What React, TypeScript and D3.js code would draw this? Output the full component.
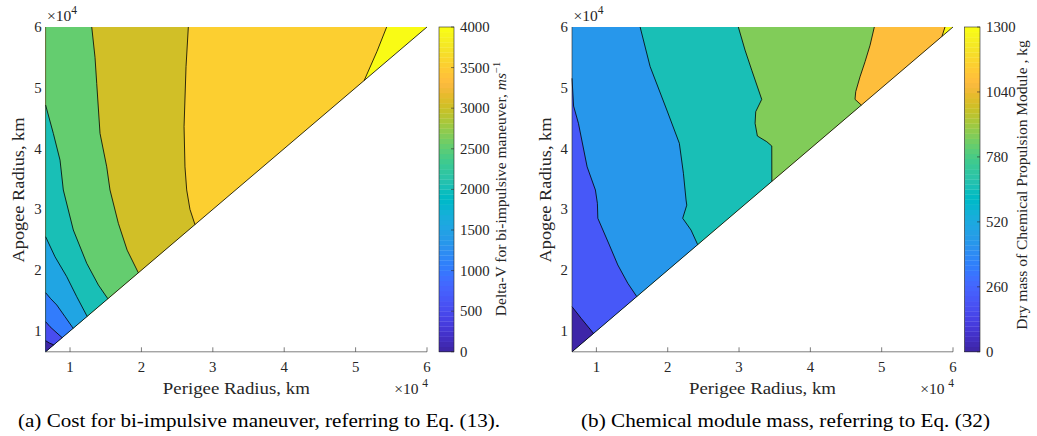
import React, { useEffect } from 'react';
import * as d3 from 'd3';

// ---------- colormap (MATLAB parula, 64 entries) ----------
const PARULA: number[][] = [
  [0.2422,0.1504,0.6603],[0.2504,0.1650,0.7076],[0.2578,0.1818,0.7511],[0.2647,0.1978,0.7952],
  [0.2706,0.2147,0.8364],[0.2751,0.2342,0.8710],[0.2783,0.2559,0.8991],[0.2803,0.2782,0.9221],
  [0.2813,0.3006,0.9414],[0.2810,0.3228,0.9579],[0.2795,0.3447,0.9717],[0.2760,0.3667,0.9829],
  [0.2699,0.3892,0.9906],[0.2602,0.4123,0.9952],[0.2440,0.4358,0.9988],[0.2206,0.4603,0.9973],
  [0.1963,0.4847,0.9892],[0.1834,0.5074,0.9798],[0.1786,0.5289,0.9682],[0.1764,0.5499,0.9520],
  [0.1687,0.5703,0.9359],[0.1540,0.5902,0.9218],[0.1460,0.6091,0.9079],[0.1380,0.6276,0.8973],
  [0.1248,0.6459,0.8883],[0.1113,0.6635,0.8763],[0.0952,0.6798,0.8598],[0.0689,0.6948,0.8394],
  [0.0297,0.7082,0.8163],[0.0036,0.7203,0.7917],[0.0067,0.7312,0.7660],[0.0433,0.7411,0.7394],
  [0.0964,0.7500,0.7120],[0.1408,0.7584,0.6842],[0.1717,0.7670,0.6554],[0.1938,0.7758,0.6251],
  [0.2161,0.7843,0.5923],[0.2470,0.7918,0.5567],[0.2906,0.7973,0.5188],[0.3406,0.8008,0.4789],
  [0.3909,0.8029,0.4354],[0.4456,0.8024,0.3909],[0.5044,0.7993,0.3480],[0.5616,0.7942,0.3045],
  [0.6174,0.7876,0.2612],[0.6720,0.7793,0.2227],[0.7242,0.7698,0.1910],[0.7738,0.7598,0.1646],
  [0.8203,0.7498,0.1535],[0.8634,0.7406,0.1596],[0.9035,0.7330,0.1774],[0.9393,0.7288,0.2100],
  [0.9728,0.7298,0.2394],[0.9956,0.7434,0.2371],[0.9970,0.7659,0.2199],[0.9952,0.7893,0.2028],
  [0.9892,0.8136,0.1885],[0.9786,0.8386,0.1766],[0.9676,0.8639,0.1643],[0.9610,0.8890,0.1537],
  [0.9597,0.9135,0.1423],[0.9628,0.9373,0.1265],[0.9691,0.9606,0.1064],[0.9769,0.9839,0.0805],
];
const parulaHex = PARULA.map(c => d3.rgb(c[0] * 255, c[1] * 255, c[2] * 255).formatHex());

// ---------- shared axis data ----------
const radiusMin = 6578;
const radiusMax = 60000;
const axisTicks = [10000, 20000, 30000, 40000, 50000, 60000];
const axisTickLabels = ['1', '2', '3', '4', '5', '6'];

// ---------- panel (a): Delta-V, m/s ----------
const dvLevels = [0, 500, 1000, 1500, 2000, 2500, 3000, 3500, 4000];
const dvColorTicks = [0, 500, 1000, 1500, 2000, 2500, 3000, 3500, 4000];
const dvClim = [0, 4000];
// contour lines: [perigee km, apogee km]
const dvLine500: [number, number][] = [[6578, 8400], [7150, 8000], [7720, 7720]];
const dvLine1000: [number, number][] = [[6578, 11530], [7200, 10700], [7900, 9950], [8900, 8900]];
const dvLine1500: [number, number][] = [[6578, 16300], [7300, 15300], [8140, 14280], [9300, 12350], [10440, 10440]];
const dvLine2000: [number, number][] = [[6578, 25510], [7900, 22200], [9540, 18930], [10940, 15640], [12400, 12400]];
const dvLine2500: [number, number][] = [[6578, 47170], [7660, 42500], [8600, 38100], [9060, 33190], [10460, 26610], [12340, 21130], [13970, 17570], [15300, 15300]];
const dvLine3000: [number, number][] = [[13040, 60000], [13500, 55000], [13740, 50700], [14200, 42500], [15140, 37000], [15600, 33190], [16770, 27700], [18000, 23300], [19570, 19570]];
const dvLine3500: [number, number][] = [[26570, 60000], [26250, 53500], [25970, 43600], [26100, 37000], [26340, 33200], [26800, 30000], [27500, 27500]];
const dvLine4000: [number, number][] = [[54350, 60000], [53000, 56000], [51200, 51200]];
const dvLines = [dvLine500, dvLine1000, dvLine1500, dvLine2000, dvLine2500, dvLine3000, dvLine3500, dvLine4000];

// ---------- panel (b): chemical module dry mass, kg ----------
const massLevels = [0, 1300 / 6, 2600 / 6, 650, 5200 / 6, 6500 / 6, 1300];
const massColorTicks = [0, 260, 520, 780, 1040, 1300];
const massClim = [0, 1300];
const massLine1: [number, number][] = [[6578, 14000], [7860, 12090], [9600, 9600]];
const massLine2: [number, number][] = [[6578, 51560], [6800, 47000], [7480, 44160], [8700, 37000], [9860, 33190], [10140, 31000], [10200, 28540], [11820, 24140], [13000, 20860], [14400, 17850], [15660, 15660]];
const massLine3: [number, number][] = [[16130, 60000], [17530, 53500], [19870, 46350], [21630, 40870], [22200, 35940], [22570, 31550], [22670, 30700], [22100, 28540], [23270, 26600], [24200, 24200]];
const massLine4: [number, number][] = [[29900, 60000], [30840, 56200], [31780, 52900], [33180, 48100], [32340, 46070], [32250, 44160], [32570, 42070], [33890, 41130], [34590, 40430], [34600, 34600]];
const massLine5: [number, number][] = [[48970, 60000], [48370, 57000], [47670, 54300], [46960, 51800], [46360, 49360], [46260, 48100], [47150, 47150]];
const massLine6: [number, number][] = [[58880, 60000], [58450, 58450]];
const massLines = [massLine1, massLine2, massLine3, massLine4, massLine5, massLine6];

// ---------- layout ----------
const FONT = 'Liberation Serif, DejaVu Serif, serif';
const AX = '#262626';
const yTop = 27;
const yBot = 351.8;

type PanelProps = {
  x0: number; x1: number; cbX: number; cbW: number;
  levels: number[]; lines: [number, number][][]; clim: number[];
  colorTicks: number[]; cbLabel: React.ReactNode; cbLabelX: number; cbLabelY: number;
  yLabelX: number; caption: string; captionX: number; captionW: number;
};

function colorFor(v: number, clim: number[]) {
  const idx = Math.max(0, Math.min(63, Math.floor(((v - clim[0]) / (clim[1] - clim[0])) * 64 + 1e-9)));
  return parulaHex[idx];
}

function Panel(p: PanelProps) {
  const xs = d3.scaleLinear().domain([radiusMin, radiusMax]).range([p.x0, p.x1]);
  const ys = d3.scaleLinear().domain([radiusMin, radiusMax]).range([yBot, yTop]);
  const line = d3.line<[number, number]>().x(d => xs(d[0])).y(d => ys(d[1]));
  const tri: [number, number][] = [[radiusMin, radiusMin], [radiusMin, radiusMax], [radiusMax, radiusMax]];
  const cs = d3.scaleLinear().domain(p.clim).range([yBot, yTop]);
  const nL = p.levels.length;

  const polys = p.lines.map(pts => {
    const poly: [number, number][] = [...pts, [radiusMin, radiusMin]];
    if (pts[0][1] >= radiusMax - 1) poly.push([radiusMin, radiusMax]);
    return poly;
  });
  const bandH = (yBot - yTop) / 64;

  return (
    <g>
      {/* filled contours */}
      <path d={line(tri)! + 'Z'} fill={colorFor(p.levels[nL - 1], p.clim)} />
      {polys.map((poly, i) => i).reverse().map(i => (
        <path key={'f' + i} d={line(polys[i])! + 'Z'} fill={colorFor(p.levels[i], p.clim)} />
      ))}
      {p.lines.map((pts, i) => (
        <path key={'l' + i} d={line(pts)!} fill="none" stroke="#000" strokeWidth={0.8} />
      ))}
      <path d={line([[radiusMin, radiusMin], [radiusMax, radiusMax]])!} stroke="#000" strokeWidth={0.8} />

      {/* axes */}
      <line x1={p.x0} x2={p.x0} y1={yTop} y2={yBot} stroke={AX} strokeWidth={0.6} />
      <line x1={p.x0} x2={p.x1} y1={yBot} y2={yBot} stroke={AX} strokeWidth={0.6} />
      {axisTicks.map((t, i) => (
        <g key={'xt' + i}>
          <line x1={xs(t)} x2={xs(t)} y1={yBot} y2={yBot - 4.5} stroke={AX} strokeWidth={0.6} />
          <text x={xs(t)} y={371.5} textAnchor="middle" fontSize={14.8} fill={AX} fontFamily={FONT}>{axisTickLabels[i]}</text>
          <text x={p.x0 - 4} y={ys(t) + 5} textAnchor="end" fontSize={14.8} fill={AX} fontFamily={FONT}>{axisTickLabels[i]}</text>
        </g>
      ))}
      <text x={(p.x0 + p.x1) / 2} y={394} textAnchor="middle" fontSize={16.4} fill={AX} fontFamily={FONT}
        textLength={147} lengthAdjust="spacingAndGlyphs">Perigee Radius, km</text>
      <text transform={`translate(${p.yLabelX},190) rotate(-90)`} textAnchor="middle" fontSize={16.4} fill={AX}
        fontFamily={FONT} textLength={145} lengthAdjust="spacingAndGlyphs">Apogee Radius, km</text>
      <text x={p.x0 + 1.5} y={20.5} fontSize={15.5} fill={AX} fontFamily={FONT}>×10<tspan dy={-6.5} fontSize={11.5}>4</tspan></text>
      <text x={p.x1 - 8.5} y={393.5} textAnchor="end" fontSize={15.5} fill={AX} fontFamily={FONT}>×10</text>
      <text x={p.x1 + 1} y={387} textAnchor="end" fontSize={11.5} fill={AX} fontFamily={FONT}>4</text>

      {/* colorbar */}
      {parulaHex.map((c, i) => (
        <rect key={'cb' + i} x={p.cbX} y={yBot - (i + 1) * bandH} width={p.cbW} height={bandH + 0.3} fill={c} />
      ))}
      <rect x={p.cbX} y={yTop} width={p.cbW} height={yBot - yTop} fill="none" stroke={AX} strokeWidth={0.6} />
      {p.colorTicks.map((t, i) => (
        <g key={'ct' + i}>
          <line x1={p.cbX + p.cbW} x2={p.cbX + p.cbW - 3} y1={cs(t)} y2={cs(t)} stroke={AX} strokeWidth={0.6} />
          <text x={p.cbX + p.cbW + 6} y={cs(t) + 5} fontSize={14.8} fill={AX} fontFamily={FONT}>{t}</text>
        </g>
      ))}
      <text transform={`translate(${p.cbLabelX},${p.cbLabelY}) rotate(-90)`} textAnchor="middle" fontSize={15.5}
        fill={AX} fontFamily={FONT}>{p.cbLabel}</text>

      {/* caption */}
      <text x={p.captionX} y={427} textAnchor="middle" fontSize={19.5} fill="#000" fontFamily={FONT}
        textLength={p.captionW} lengthAdjust="spacingAndGlyphs">{p.caption}</text>
    </g>
  );
}

export default function App() {
  useEffect(() => { document.body.style.margin = '0'; }, []);
  return (
    <svg width={1037} height={436} viewBox="0 0 1037 436"
      style={{ position: 'absolute', left: 0, top: 0, background: '#fff' }}>
      <rect width={1037} height={436} fill="#fff" />
      <Panel x0={45.6} x1={427} cbX={439} cbW={15} levels={dvLevels} lines={dvLines} clim={dvClim}
        colorTicks={dvColorTicks}
        cbLabel={<>Delta-V for bi-impulsive maneuver, <tspan fontStyle="italic">ms</tspan><tspan dy={-6} fontSize={10.5}>−1</tspan></>}
        cbLabelX={506} cbLabelY={189} yLabelX={24}
        caption="(a) Cost for bi-impulsive maneuver, referring to Eq. (13)." captionX={259} captionW={482} />
      <Panel x0={572} x1={953} cbX={964.5} cbW={15.5} levels={massLevels} lines={massLines} clim={massClim}
        colorTicks={massColorTicks}
        cbLabel={<>Dry mass of Chemical Propulsion Module , kg</>}
        cbLabelX={1027} cbLabelY={185} yLabelX={551}
        caption="(b) Chemical module mass, referring to Eq. (32)" captionX={785.5} captionW={409} />
    </svg>
  );
}
